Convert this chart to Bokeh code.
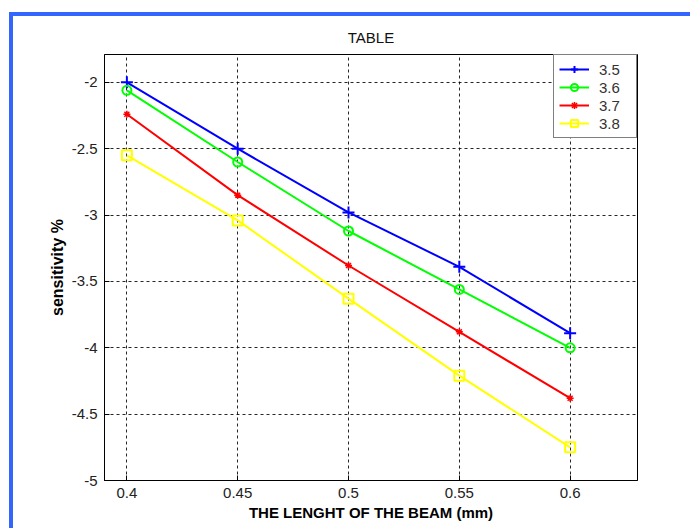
from bokeh.plotting import figure
from bokeh.models import (Range1d, FixedTicker, Legend, LegendItem, Title, InlineStyleSheet)
from bokeh.embed import file_html
from bokeh.resources import INLINE

# ---- data ----
beam_length = [0.40, 0.45, 0.50, 0.55, 0.60]
s_35 = [-2.00, -2.50, -2.98, -3.39, -3.89]
s_36 = [-2.06, -2.60, -3.12, -3.56, -4.00]
s_37 = [-2.24, -2.85, -3.38, -3.88, -4.38]
s_38 = [-2.55, -3.04, -3.63, -4.21, -4.75]
series_labels = ["3.5", "3.6", "3.7", "3.8"]
x_ticks = [0.4, 0.45, 0.5, 0.55, 0.6]
x_tick_labels = ["0.4", "0.45", "0.5", "0.55", "0.6"]
y_ticks = [-5, -4.5, -4, -3.5, -3, -2.5, -2]
y_tick_labels = ["-5", "-4.5", "-4", "-3.5", "-3", "-2.5", "-2"]

FONT = "Liberation Sans"

p = figure(width=690, height=528, output_backend="svg", toolbar_location=None,
           x_range=Range1d(0.3899, 0.6304), y_range=Range1d(-5, -1.79),
           min_border_left=104, min_border_right=53, min_border_top=54, min_border_bottom=48)

p.title = Title(text="TABLE", align="center", text_font=FONT, text_font_size="15px",
                text_font_style="normal", text_color="#111111", standoff=17)
p.background_fill_color = "white"
p.border_fill_color = "white"
p.outline_line_color = "black"
p.outline_line_width = 1

# axes
for ax in (p.xaxis[0], p.yaxis[0]):
    ax.axis_line_color = "black"
    ax.major_tick_out = 0
    ax.major_tick_in = 5
    ax.major_tick_line_color = "black"
    ax.minor_tick_line_color = None
    ax.major_label_text_font = FONT
    ax.major_label_text_font_size = "15px"
    ax.major_label_text_color = "#222222"
    ax.axis_label_text_font = FONT
    ax.axis_label_text_font_style = "bold"
    ax.axis_label_text_color = "black"

p.xaxis.ticker = FixedTicker(ticks=x_ticks)
p.xaxis.major_label_overrides = {t: l for t, l in zip(x_ticks, x_tick_labels)}
p.yaxis.ticker = FixedTicker(ticks=y_ticks)
p.yaxis.major_label_overrides = {t: l for t, l in zip(y_ticks, y_tick_labels)}
p.xaxis.major_label_standoff = 7
p.yaxis.major_label_standoff = 7
p.xaxis.axis_label = "THE LENGHT OF THE BEAM (mm)"
p.xaxis.axis_label_text_font_size = "15px"
p.xaxis.axis_label_standoff = 3
p.yaxis.axis_label = "sensitivity %"
p.yaxis.axis_label_text_font_size = "16px"
p.yaxis.axis_label_standoff = 3

# grid
for g in (p.xgrid[0], p.ygrid[0]):
    g.grid_line_color = "black"
    g.grid_line_dash = "3 3"
    g.grid_line_width = 1
    g.grid_line_alpha = 0.85

# series
l1 = p.line(beam_length, s_35, line_color="#0000ff", line_width=2)
m1 = p.scatter(beam_length, s_35, marker="cross", size=12, line_color="#0000ff", line_width=2)
l2 = p.line(beam_length, s_36, line_color="#00ff00", line_width=2)
m2 = p.scatter(beam_length, s_36, marker="circle", size=9, line_color="#00ff00",
               fill_color=None, line_width=2)
l3 = p.line(beam_length, s_37, line_color="#ff0000", line_width=2)
m3 = p.scatter(beam_length, s_37, marker="asterisk", size=7, line_color="#ff0000", line_width=1.5)
l4 = p.line(beam_length, s_38, line_color="#ffff00", line_width=2)
m4 = p.scatter(beam_length, s_38, marker="square", size=10, line_color="#ffff00",
               fill_color=None, line_width=2)

legend = Legend(items=[
    LegendItem(label=series_labels[0], renderers=[l1, m1]),
    LegendItem(label=series_labels[1], renderers=[l2, m2]),
    LegendItem(label=series_labels[2], renderers=[l3, m3]),
    LegendItem(label=series_labels[3], renderers=[l4, m4]),
], location="top_right")
legend.margin = 0
legend.padding = 5
legend.spacing = 0
legend.glyph_width = 30
legend.glyph_height = 18
legend.label_height = 18
legend.label_width = 32
legend.label_standoff = 10
legend.label_text_font = FONT
legend.label_text_font_size = "15px"
legend.label_text_color = "#333333"
legend.border_line_color = "black"
legend.border_line_width = 1
legend.background_fill_color = "white"
legend.background_fill_alpha = 1
p.add_layout(legend)

# outer blue frame of the figure window (drawn by CSS, no data involved)
p.stylesheets = [InlineStyleSheet(css="""
:host { position: relative; }
:host::after {
  content: "";
  position: absolute;
  left: 9px; top: 12px; right: 0; bottom: 0;
  border-left: 4px solid #3366ff;
  border-top: 4px solid #3366ff;
  pointer-events: none;
  z-index: 10;
}
""")]

open("out.html", "w").write(file_html(p, INLINE))
